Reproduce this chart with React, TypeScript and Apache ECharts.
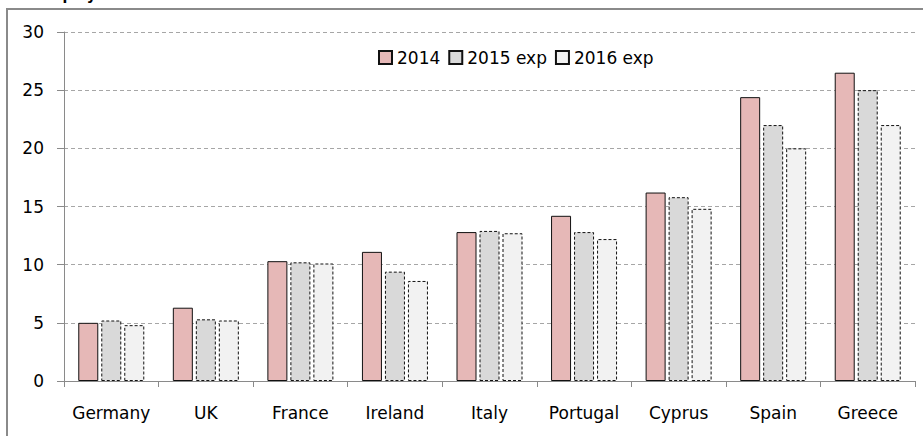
import React, { useEffect, useRef } from "react";
import * as echarts from "echarts";

const categories = ["Germany", "UK", "France", "Ireland", "Italy", "Portugal", "Cyprus", "Spain", "Greece"];
const seriesNames = ["2014", "2015 exp", "2016 exp"];
const values2014 = [5.0, 6.3, 10.3, 11.1, 12.8, 14.2, 16.2, 24.4, 26.5];
const values2015 = [5.2, 5.3, 10.2, 9.4, 12.9, 12.8, 15.8, 22.0, 25.0];
const values2016 = [4.8, 5.2, 10.1, 8.6, 12.7, 12.2, 14.8, 20.0, 22.0];
const yTicks = { min: 0, max: 30, interval: 5 };

const FONT = "DejaVu Sans";

export default function App() {
  const ref = useRef<HTMLDivElement>(null);
  useEffect(() => {
    document.body.style.margin = "0";
    if (!ref.current) return;
    const chart = echarts.init(ref.current, null, { renderer: "svg" });
    const mk = (name: string, data: number[], color: string, dashed: boolean) => ({
      name,
      type: "bar",
      data,
      barWidth: 20,
      barGap: "15%",
      itemStyle: {
        color,
        borderColor: "#111",
        borderWidth: 1,
        borderType: dashed ? [3, 2] : "solid",
      },
    });
    chart.setOption({
      animation: false,
      backgroundColor: "#fff",
      textStyle: { fontFamily: FONT },
      graphic: [
        {
          type: "rect",
          shape: { x: 7, y: 9, width: 1000, height: 1000 },
          style: { fill: "none", stroke: "#8a8a8a", lineWidth: 2 },
          silent: true,
        },
        {
          type: "text",
          x: 17,
          y: 1.5,
          style: {
            text: "Unemployment",
            font: "bold 14px DejaVu Sans",
            fill: "#000",
            verticalAlign: "bottom",
          },
          silent: true,
        },
      ],
      legend: {
        left: 373,
        top: 44,
        itemWidth: 13,
        itemHeight: 13,
        itemGap: 8,
        icon: "rect",
        textStyle: { fontFamily: FONT, fontSize: 17, color: "#000" },
        data: seriesNames,
      },
      grid: { left: 64, right: 8, top: 32, bottom: 55, containLabel: false },
      xAxis: {
        type: "category",
        data: categories,
        axisLine: { lineStyle: { color: "#8a8a8a", width: 1 } },
        axisTick: { show: true, length: 6, lineStyle: { color: "#8a8a8a" } },
        axisLabel: { color: "#000", fontSize: 17, fontFamily: FONT, margin: 23, interval: 0 },
      },
      yAxis: {
        type: "value",
        min: yTicks.min,
        max: yTicks.max,
        interval: yTicks.interval,
        axisLine: { show: true, lineStyle: { color: "#8a8a8a", width: 1 } },
        axisTick: { show: true, length: 7, lineStyle: { color: "#8a8a8a" } },
        axisLabel: { color: "#000", fontSize: 17, fontFamily: FONT, margin: 20 },
        splitLine: { lineStyle: { color: "#a6a6a6", type: [4, 3], width: 1 } },
      },
      series: [
        mk(seriesNames[0], values2014, "#E6B8B7", false),
        mk(seriesNames[1], values2015, "#D9D9D9", true),
        mk(seriesNames[2], values2016, "#F2F2F2", true),
      ],
    });
    return () => chart.dispose();
  }, []);
  return <div ref={ref} style={{ width: 923, height: 436 }} />;
}
